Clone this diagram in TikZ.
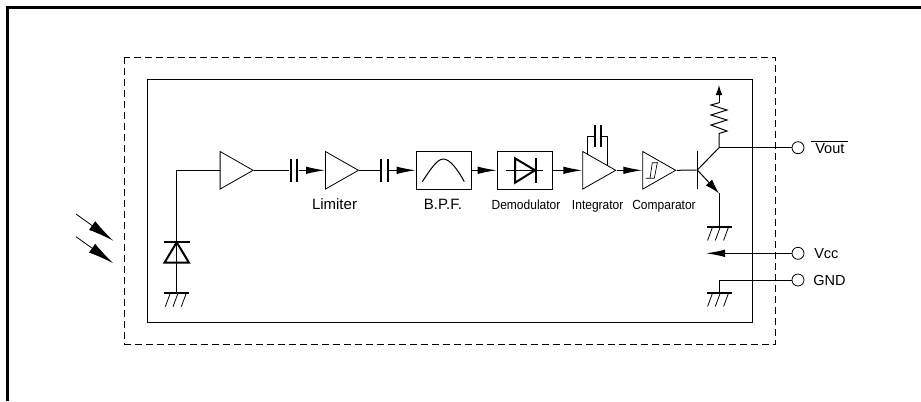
\documentclass[tikz,border=0pt]{standalone}
\usepackage{fontspec}
\setmainfont{Liberation Sans}
\newfontfamily\narrowfont[FakeStretch=0.91]{Liberation Sans}
\usetikzlibrary{shapes.geometric, arrows.meta, positioning, calc}
\tikzstyle{amp} = [isosceles triangle, isosceles triangle stretches, draw=black, line width=0.6pt, inner sep=0pt, minimum width=28.2pt, minimum height=24.75pt, anchor=lower side]
\tikzstyle{block} = [rectangle, draw=black, line width=0.75pt, inner sep=0pt, minimum width=41.5pt, minimum height=28.2pt, anchor=west]
\tikzstyle{plate} = [rectangle, fill=black, inner sep=0pt, minimum width=1.5pt, minimum height=17.5pt]
\tikzstyle{gnd} = [rectangle, fill=black, inner sep=0pt, minimum width=18.75pt, minimum height=1.4pt]
\tikzstyle{terminal} = [circle, draw=black, line width=0.6pt, fill=white, inner sep=0pt, minimum size=9pt]
\tikzstyle{wire} = [line width=0.75pt]
\tikzstyle{arrow} = [line width=0.75pt, -{Latex[length=14.25pt,width=5.6pt]}]
\tikzstyle{lightray} = [line width=0.6pt, -{Latex[length=19.5pt,width=8pt]}]
\tikzstyle{lbl} = [inner sep=0pt, anchor=base, font=\fontsize{11.25}{13}\selectfont]
\tikzstyle{smalllbl} = [inner sep=0pt, anchor=base, font=\narrowfont\fontsize{9.9}{12}\selectfont]
\tikzstyle{pinlbl} = [inner sep=0pt, anchor=base west, font=\fontsize{10.9}{13}\selectfont]
\begin{document}
\begin{tikzpicture}[x=0.75pt, y=-0.75pt]
  \useasboundingbox (0,0) rectangle (921,401);

  % Outer frame and package outlines
  \draw[line width=1.6pt] (921,7.5) -- (7.5,7.5) -- (7.5,401);
  \draw[line width=0.75pt, dash pattern=on 5.25pt off 3pt] (124.5,57) rectangle (775,344);
  \draw[line width=0.75pt] (147.5,79.5) rectangle (752,322);

  % Signal chain
  \node[amp] (preamp) at (219.7,170.3) {};
  \node[plate] (capal) at (290.7,170.3) {};
  \node[plate] (capar) at (297.3,170.3) {};
  \node[amp] (limiter) at (325,170.3) {};
  \node[plate] (capbl) at (381,170.3) {};
  \node[plate] (capbr) at (387.7,170.3) {};
  \node[block] (bpf) at (415.7,170.3) {};
  \node[block] (demod) at (496.7,170.3) {};
  \node[amp] (integ) at (582.3,170.3) {};
  \node[amp] (compar) at (642.3,170.3) {};

  % Labels
  \node[lbl] (limiterlbl) at (334.5,209) {Limiter};
  \node[lbl] (bpflbl) at (443,209) {B.P.F.};
  \node[smalllbl] (demodlbl) at (526,209) {Demodulator};
  \node[smalllbl] (integlbl) at (597.7,209) {Integrator};
  \node[smalllbl] (comparlbl) at (664,209) {Comparator};

  % Connections along the chain
  \draw[wire] (preamp.apex) -- (capal);
  \draw[arrow] (capar) -- (limiter.lower side);
  \draw[wire] (limiter.apex) -- (capbl);
  \draw[arrow] (capbr) -- (bpf.west);
  \draw[arrow] (bpf.east) -- (demod.west);
  \draw[arrow] (demod.east) -- (integ.lower side);
  \draw[arrow] (integ.apex) -- (compar.lower side);

  % Band-pass curve
  \draw[wire] (422.3,181.7) .. controls (430,170) and (437,159) .. (443.3,159) .. controls (450,159) and (458,170) .. (464.3,181.7);

  % Demodulator diode
  \draw[wire] (506,170.3) -- (542.7,170.3);
  \draw[line width=1.5pt] (515,158.3) -- (535,170.3) -- (515,182.7) -- cycle;
  \draw[line width=1.5pt] (536,158.3) -- (536,182.7);

  % Integrator capacitor
  \node[plate, minimum height=16pt] (capcl) at (595,136) {};
  \node[plate, minimum height=16pt] (capcr) at (601,136) {};
  \draw[wire] (587.7,154.8) |- (capcl);
  \draw[wire] (607.3,165.9) |- (capcr);

  % Comparator hysteresis
  \draw[line width=0.5pt] (645.7,178.3) -- (654.3,178.3) -- (657.3,162.7);
  \draw[line width=0.5pt] (650,178.3) -- (652.3,162.7) -- (658,162.7);

  % Photodiode
  \coordinate (pdtop) at (176.7,242.3);
  \node[gnd] (gnda) at (176.7,293) {};
  \draw[wire] (preamp.lower side) -| (pdtop);
  \draw[wire] (pdtop) -- (gnda);
  \draw[line width=1.5pt] (164,242.3) -- (190,242.3);
  \draw[line width=1.5pt] (pdtop) -- (189,262.7) -- (164.5,262.7) -- cycle;

  % Incoming light
  \coordinate (lightas) at (76,214);
  \coordinate (lightae) at (113.3,240.7);
  \coordinate (lightbs) at (76,236.7);
  \coordinate (lightbe) at (113.3,263.3);
  \draw[lightray] (lightas) -- (lightae);
  \draw[lightray] (lightbs) -- (lightbe);

  % Output transistor
  \node[plate, minimum width=0.75pt, minimum height=28.5pt] (base) at (697.3,170) {};
  \coordinate (coll) at (719,147.7);
  \coordinate (emit) at (719,193.3);
  \coordinate (pullup) at (719,85);
  \node[gnd] (gndb) at (719,226.7) {};
  \draw[wire] (compar.apex) -- (base);
  \draw[wire] (base.center) -- (coll);
  \draw[wire, -{Latex[length=11pt,width=6.5pt]}] (base.center) -- (emit);
  \draw[wire] (emit) -- (gndb);

  % Pull-up resistor
  \draw[wire] (coll) -- (719,133.5) -- (727,131) -- (711,125) -- (727,120) -- (711,115) -- (727,110) -- (711,105) -- (719,102.7);
  \draw[wire, -{Latex[length=7.5pt,width=5pt]}] (719,102.7) -- (pullup);

  % Pins
  \node[terminal] (tvout) at (798,147.7) {};
  \node[terminal] (tvcc) at (798,253.3) {};
  \node[terminal] (tgnd) at (798,280) {};
  \node[pinlbl] (voutlbl) at (811,153) {$\overline{\hbox{\kern3pt Vout\kern3pt}}$};
  \node[pinlbl] (vcclbl) at (814,258.7) {Vcc};
  \node[pinlbl] (gndlbl) at (813,285) {GND};
  \node[gnd] (gndc) at (719,292.7) {};
  \coordinate (vccend) at (706,253.3);
  \draw[wire] (coll) -- (tvout);
  \draw[arrow] (tvcc) -- (vccend);
  \draw[wire] (tgnd) -| (gndc);

  % Ground hatching
  \foreach \g in {gnda,gndb,gndc}
    \foreach \dx in {-6.7,1,9.3}
      \draw[line width=0.6pt] ($(\g)+(\dx,1)$) -- ++(-4.7,12.7);
\end{tikzpicture}
\end{document}
